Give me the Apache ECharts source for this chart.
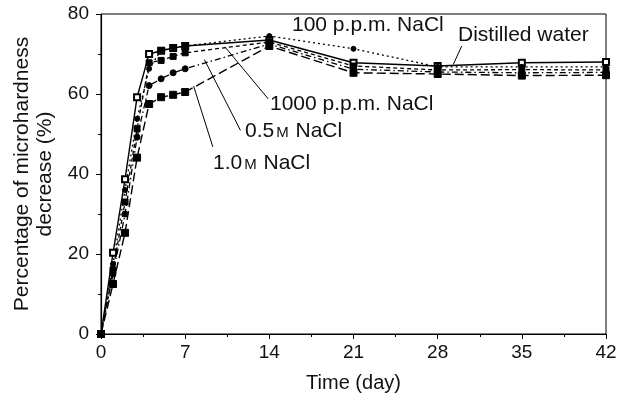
<!DOCTYPE html>
<html>
<head>
<meta charset="utf-8">
<script src="https://cdn.jsdelivr.net/npm/echarts@6/dist/echarts.min.js"></script>
<style>
  html, body { margin: 0; padding: 0; background: #fff; }
  #chart { width: 629px; height: 399px; }
</style>
</head>
<body>
<div id="chart"></div>
<script>
// sampling days
const days = [0, 1, 2, 3, 4, 5, 6, 7, 14, 21, 28, 35, 42];

// percentage of microhardness decrease
const distilledWater = [0, 20.3, 38.7, 59.2, 70.0, 70.8, 71.5, 72.0, 73.5, 67.8, 67.0, 67.8, 68.0];
const ppm100 = [0, 17.5, 36.0, 53.8, 66.3, 70.9, 71.6, 72.0, 74.5, 71.3, 66.8, 66.8, 66.8];
const ppm1000 = [0, 16.0, 33.0, 51.3, 67.8, 68.4, 69.4, 70.3, 73.0, 67.0, 66.0, 66.1, 66.0];
const molar05 = [0, 15.0, 30.0, 49.2, 62.1, 63.8, 65.3, 66.3, 72.5, 66.2, 65.5, 65.3, 65.4];
const molar10 = [0, 12.5, 25.3, 44.1, 57.5, 59.2, 59.8, 60.5, 72.0, 65.3, 65.0, 64.6, 64.7];

const xTicks = [0, 7, 14, 21, 28, 35, 42];
const yTicks = [0, 20, 40, 60, 80];

const FONT = "Liberation Sans";
const pair = (vals) => vals.map((v, i) => [days[i], v]);

function lineSeries(name, values, symbol, size, dash, width) {
  return {
    name,
    type: "line",
    data: pair(values),
    symbol,
    symbolSize: size,
    itemStyle: { color: "#000", borderColor: "#000", borderWidth: 1 },
    lineStyle: { color: "#000", width: width, type: dash },
    emphasis: { disabled: true },
    z: 3,
  };
}

const chart = echarts.init(document.getElementById("chart"), null, { renderer: "canvas" });

chart.setOption({
  animation: false,
  backgroundColor: "#fff",
  grid: {
    left: 101, right: 23, top: 14, bottom: 65,
    outerBoundsMode: "none",
    containLabel: false,
    show: true, borderColor: "#000", borderWidth: 1, backgroundColor: "transparent",
  },
  xAxis: {
    type: "value",
    min: 0, max: 42, interval: 7,
    name: "Time (day)",
    nameLocation: "middle",
    nameGap: 39,
    nameTextStyle: { fontFamily: FONT, fontSize: 20, color: "#111" },
    axisLine: { lineStyle: { color: "#000", width: 1.2 } },
    axisTick: { show: true, length: 5, lineStyle: { color: "#000" } },
    minorTick: { show: true, splitNumber: 2, length: 3, lineStyle: { color: "#000" } },
    axisLabel: {
      fontFamily: FONT, fontSize: 19, color: "#111", margin: 9,
      formatter: (v) => (xTicks.includes(v) ? String(v) : ""),
    },
    splitLine: { show: false },
  },
  yAxis: {
    type: "value",
    min: 0, max: 80, interval: 20,
    name: "Percentage of microhardness\ndecrease (%)",
    nameLocation: "middle",
    nameRotate: 90,
    nameGap: 44,
    nameTextStyle: { fontFamily: FONT, fontSize: 21, color: "#111", lineHeight: 23 },
    axisLine: { lineStyle: { color: "#000", width: 1.2 } },
    axisTick: { show: true, length: 5, lineStyle: { color: "#000" } },
    minorTick: { show: true, splitNumber: 2, length: 3, lineStyle: { color: "#000" } },
    axisLabel: {
      fontFamily: FONT, fontSize: 19, color: "#111", margin: 12,
      formatter: (v) => (yTicks.includes(v) ? String(v) : ""),
    },
    splitLine: { show: false },
  },
  series: [
    lineSeries("Distilled water", distilledWater, "emptyRect", 6, "solid", 1.4),
    lineSeries("100 p.p.m. NaCl", ppm100, "circle", 5, [2, 3], 1.3),
    lineSeries("1000 p.p.m. NaCl", ppm1000, "rect", 6, [4, 3], 1.3),
    lineSeries("0.5 M NaCl", molar05, "circle", 6, [6, 3, 1.5, 3], 1.3),
    lineSeries("1.0 M NaCl", molar10, "rect", 7, [9, 4], 1.4),
  ],
});

// leader lines, endpoints in data space: [day, %]
const leaders = [
  [[10.3, 71.8], [13.9, 58.8]],
  [[8.6, 68.6], [11.6, 50.9]],
  [[7.7, 62.0], [9.3, 46.8]],
  [[30.0, 72.0], [29.3, 67.4]],
];

const labelStyle = { fontFamily: FONT, fontSize: 21, fill: "#111" };
const annotations = [
  { text: "100 p.p.m. NaCl", x: 292, y: 25 },
  { text: "Distilled water", x: 458, y: 35 },
  { text: "1000 p.p.m. NaCl", x: 270, y: 104 },
  { text: "0.5{s|M} NaCl", x: 245, y: 131 },
  { text: "1.0{s|M} NaCl", x: 213, y: 163 },
];

const graphics = leaders.map(([a, b]) => {
  const p1 = chart.convertToPixel({ gridIndex: 0 }, a);
  const p2 = chart.convertToPixel({ gridIndex: 0 }, b);
  return {
    type: "line",
    shape: { x1: p1[0], y1: p1[1], x2: p2[0], y2: p2[1] },
    style: { stroke: "#000", lineWidth: 1 },
    z: 10,
  };
});

annotations.forEach((a) => {
  graphics.push({
    type: "text",
    x: a.x,
    y: a.y,
    style: {
      ...labelStyle,
      text: a.text,
      verticalAlign: "middle",
      rich: { s: { fontFamily: FONT, fontSize: 15, fill: "#111", padding: [3, 1, 0, 2] } },
    },
    z: 10,
  });
});

chart.setOption({ graphic: graphics });
</script>
</body>
</html>
